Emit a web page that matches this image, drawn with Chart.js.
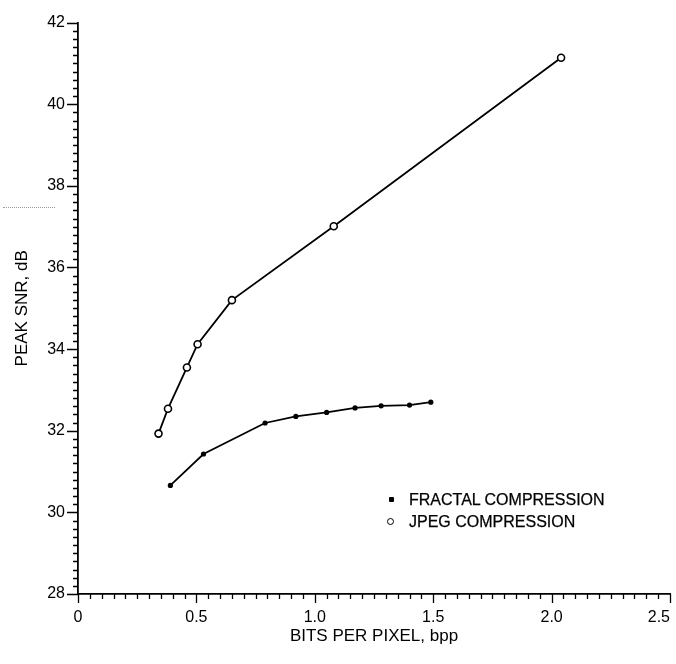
<!DOCTYPE html>
<html>
<head>
<meta charset="utf-8">
<script src="https://cdn.jsdelivr.net/npm/chart.js@4.4.1/dist/chart.umd.min.js"></script>
<style>
  html, body { margin: 0; padding: 0; background: #fff; }
  #wrap { position: relative; width: 676px; height: 664px; }
  #snr { position: absolute; left: 0; top: 0; }
  .legText { position: absolute; left: 409px; font: 16px "Liberation Sans", Arial, sans-serif; color: #000; line-height: 20px; white-space: nowrap; -webkit-text-stroke: 0.25px #000; }
  .mkFractal { position: absolute; left: 389px; top: 497px; width: 5px; height: 5px; background: #000; border-radius: 1px; }
  .mkJpeg { position: absolute; left: 387px; top: 518px; width: 5px; height: 5px; border: 1.5px solid #000; border-radius: 50%; background: #fff; }
  .scanMark { position: absolute; left: 3px; top: 207px; width: 52px; border-top: 1px dotted #9a9a9a; }
</style>
</head>
<body>
<div id="wrap">
  <canvas id="snr" width="676" height="664"></canvas>
  <div class="scanMark"></div>
  <span class="mkFractal"></span>
  <div class="legText" style="top:490px">FRACTAL COMPRESSION</div>
  <span class="mkJpeg"></span>
  <div class="legText" style="top:512px">JPEG COMPRESSION</div>
</div>
<script>
  // values
  const fractalBpp = [0.39, 0.53, 0.79, 0.92, 1.05, 1.17, 1.28, 1.40, 1.49];
  const fractalSnr = [30.66, 31.43, 32.19, 32.35, 32.45, 32.56, 32.61, 32.63, 32.70];
  const jpegBpp = [0.34, 0.38, 0.46, 0.505, 0.65, 1.08, 2.04];
  const jpegSnr = [31.93, 32.54, 33.55, 34.12, 35.2, 37.01, 41.14];
  const xTickLabels = ['0', '0.5', '1.0', '1.5', '2.0', '2.5'];
  const yTickLabels = ['28', '30', '32', '34', '36', '38', '40', '42'];

  const ink = '#000';
  const font = { family: '"Liberation Sans", Arial, sans-serif', size: 16 };

  const toXY = (xs, ys) => xs.map((v, i) => ({ x: v, y: ys[i] }));

  // major + minor tick marks drawn along the axes
  const axisTicks = {
    id: 'axisTicks',
    afterDraw(chart) {
      const { ctx, scales: { x, y } } = chart;
      ctx.save();
      ctx.strokeStyle = ink;
      ctx.lineWidth = 1.3;
      ctx.beginPath();
      for (let i = 0; i <= 50; i++) {
        const px = Math.round(x.getPixelForValue(i * 0.05)) + 0.5;
        const len = i % 10 === 0 ? 9 : 5;
        ctx.moveTo(px, x.top);
        ctx.lineTo(px, x.top + len);
      }
      for (let i = 0; i <= 70; i++) {
        const py = Math.round(y.getPixelForValue(28 + i * 0.2)) + 0.5;
        const len = i % 10 === 0 ? 11 : 5;
        ctx.moveTo(y.right, py);
        ctx.lineTo(y.right - len, py);
      }
      ctx.stroke();
      ctx.restore();
    }
  };

  new Chart(document.getElementById('snr'), {
    type: 'line',
    data: {
      datasets: [
        {
          label: 'FRACTAL COMPRESSION',
          data: toXY(fractalBpp, fractalSnr),
          borderColor: ink, borderWidth: 1.8, tension: 0,
          pointRadius: 2.6, pointBackgroundColor: ink, pointBorderColor: ink, pointBorderWidth: 0
        },
        {
          label: 'JPEG COMPRESSION',
          data: toXY(jpegBpp, jpegSnr),
          borderColor: ink, borderWidth: 1.8, tension: 0,
          pointRadius: 3.5, pointBackgroundColor: '#fff', pointBorderColor: ink, pointBorderWidth: 1.6
        }
      ]
    },
    options: {
      responsive: false, animation: false,
      layout: { padding: { top: 14, right: 6, left: 0, bottom: 0 } },
      plugins: { legend: { display: false }, tooltip: { enabled: false } },
      scales: {
        x: {
          type: 'linear', min: 0, max: 2.5,
          afterFit: s => { s.height = 70; s.paddingLeft = 0; s.paddingRight = 0; },
          ticks: {
            stepSize: 0.5, color: ink, font: font, padding: 14, maxRotation: 0, autoSkip: false,
            callback: (v, i) => i === xTickLabels.length - 1 ? xTickLabels[i] + '\u00a0\u00a0\u00a0\u00a0\u00a0' : xTickLabels[i]
          },
          grid: { drawOnChartArea: false, drawTicks: false },
          border: { color: ink, width: 1.8 },
          title: { display: true, text: 'BITS PER PIXEL, bpp', color: ink, font: { family: font.family, size: 17 }, padding: { top: 0, bottom: 17 } }
        },
        y: {
          min: 28, max: 42,
          afterFit: s => { s.width = 78; },
          ticks: {
            stepSize: 2, color: ink, font: font, padding: 13,
            callback: (v, i) => yTickLabels[i]
          },
          grid: { drawOnChartArea: false, drawTicks: false },
          border: { color: ink, width: 1.8 },
          title: { display: true, text: 'PEAK SNR, dB', color: ink, font: { family: font.family, size: 17 }, padding: { top: 12, bottom: 0 } }
        }
      }
    },
    plugins: [axisTicks]
  });
</script>
</body>
</html>
